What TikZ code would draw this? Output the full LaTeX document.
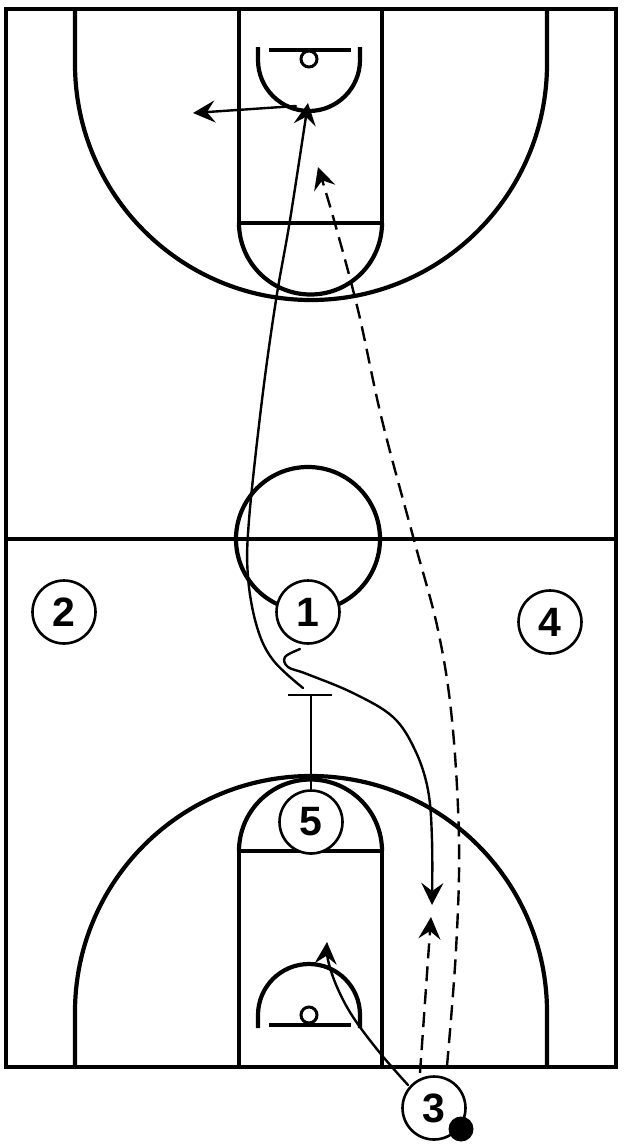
\documentclass[tikz,border=0pt]{standalone}
\usepackage{fontspec}
\setmainfont{Liberation Sans}
\usetikzlibrary{arrows.meta}
\begin{document}
\begin{tikzpicture}[x=1pt,y=-1pt,
  court/.style={line width=4.2pt},
  player/.style={circle,draw,line width=2.6pt,fill=white,minimum size=63pt,inner sep=0pt,
    font=\fontsize{41}{41}\selectfont\bfseries},
  move/.style={line width=2.4pt,line cap=round,-{Stealth[length=22pt,width=22pt,inset=8pt]}},
  passline/.style={move,line cap=butt,dash pattern=on 15pt off 8pt},
  screenline/.style={line width=2.4pt}]
\useasboundingbox[fill=white] (0,0) rectangle (624,1144);
% court
\draw[court] (6,9) rectangle (616,1067);
\draw[court] (6,539) -- (616,539);
\draw[court] (308,539) circle[radius=72pt];
% top half
\draw[court] (75,9) -- (75,64) arc[start angle=180,end angle=360,radius=236pt] -- (547,9);
\draw[court] (239,9) -- (239,223) -- (382,223) -- (382,9);
\draw[court] (239,223) arc[start angle=180,end angle=360,radius=71.5pt];
\draw[court] (258,47) -- (258,60) arc[start angle=180,end angle=360,radius=51pt] -- (360,47);
\draw[court] (269,50) -- (351,50);
\draw[line width=3pt] (309,59) circle[radius=8pt];
% bottom half
\draw[court] (75,1067) -- (75,1012) arc[start angle=180,end angle=0,radius=236pt] -- (547,1067);
\draw[court] (239,1067) -- (239,851) -- (382,851) -- (382,1067);
\draw[court] (239,851) arc[start angle=180,end angle=0,radius=71.5pt];
\draw[court] (258,1028) -- (258,1015) arc[start angle=180,end angle=0,radius=51pt] -- (360,1028);
\draw[court] (269,1025) -- (351,1025);
\draw[line width=3pt] (309,1015) circle[radius=8pt];
% players
\node[player] (p1) at (308,612) {1};
\node[player] (p2) at (64,612) {2};
\node[player] (p4) at (550,622) {4};
\node[player] (p5) at (311,822) {5};
\node[player] (p3) at (434,1108) {3};
\fill (461,1129) circle[radius=12.5pt];
% screen
\coordinate (scr) at (311,695);
\draw[screenline] (p5.north) -- (scr);
\draw[screenline] (288,695) -- (332,695);
% cut to basket
\draw[move] plot[smooth,tension=0.6] coordinates {(303,688) (273,660) (257,627) (248,577) (249,520) (262,400) (276,300) (290,220) (308,103)};
% pass from top
\draw[move] (296,106) -- (193,113);
% dribble
\draw[move] plot[smooth,tension=0.6] coordinates {(300,649) (285,657) (288,667) (307,674) (353,693) (393,717) (415,750) (428,790) (432,840) (432,905)};
% short dashed
\draw[passline] (420,1073) -- (431,917);
% long dashed pass
\draw[passline] plot[smooth,tension=0.6] coordinates {(447,1066) (456,950) (459,840) (452,720) (438,630) (414,540) (382,420) (358,310) (334,220) (318,167)};
% 3 to basket
\draw[move] plot[smooth,tension=0.6] coordinates {(408,1085) (380,1053) (353,1017) (337,987) (328,960) (327,942)};
\end{tikzpicture}
\end{document}
